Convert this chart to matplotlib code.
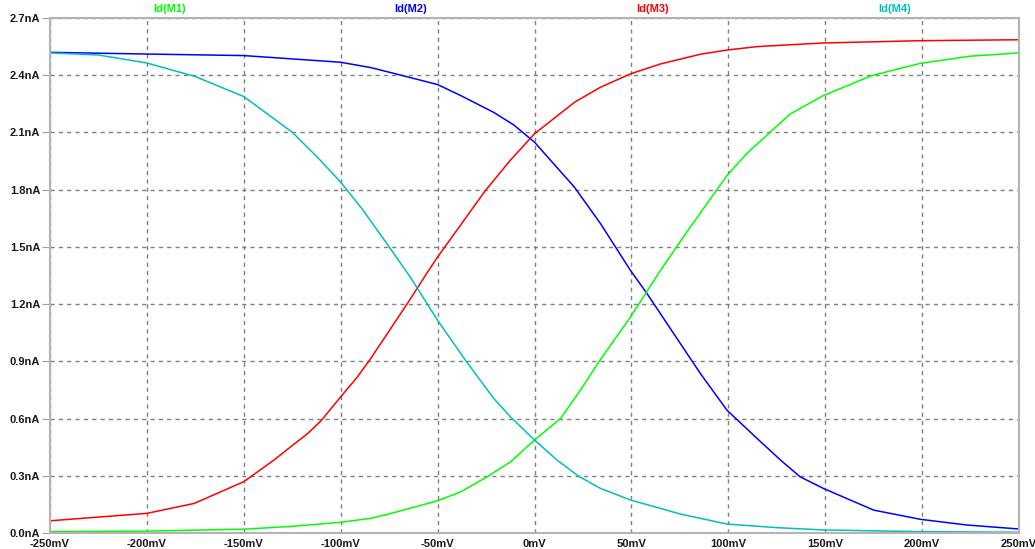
import numpy as np
import matplotlib.pyplot as plt

# readings: V in mV, Id in nA
v_m1 = [-250, -200, -150, -125, -100, -84.5, -75, -50, -38, -24.4, -12.4, 0, 13.4, 23.7, 33.2, 49.5, 65, 80.4, 99.3, 109.6, 121, 132, 149, 174, 199, 225, 250]
id_m1 = [0.007, 0.010, 0.020, 0.035, 0.056, 0.077, 0.100, 0.169, 0.216, 0.295, 0.373, 0.487, 0.600, 0.749, 0.897, 1.132, 1.377, 1.604, 1.874, 1.990, 2.096, 2.197, 2.293, 2.398, 2.462, 2.500, 2.517]

v_m2 = [-250, -200, -150, -100, -84.5, -72.7, -50, -38, -21, -10.8, 0, 20.6, 34, 49.5, 58, 80.4, 85.6, 99.3, 114.8, 127, 137, 149, 175, 199, 223, 250]
id_m2 = [2.520, 2.511, 2.503, 2.468, 2.440, 2.410, 2.351, 2.293, 2.205, 2.140, 2.049, 1.813, 1.623, 1.377, 1.256, 0.915, 0.836, 0.644, 0.496, 0.382, 0.295, 0.234, 0.120, 0.072, 0.042, 0.021]

v_m3 = [-250, -200, -175.6, -150, -134.5, -125.8, -117, -110, -100, -91.4, -84.5, -65.6, -54.6, -50, -25.3, -12.4, 0, 20.6, 34, 49.5, 65, 85.6, 99.3, 114.8, 149, 199, 250]
id_m3 = [0.064, 0.103, 0.155, 0.269, 0.382, 0.452, 0.522, 0.590, 0.714, 0.818, 0.915, 1.203, 1.377, 1.447, 1.796, 1.955, 2.093, 2.258, 2.337, 2.407, 2.459, 2.510, 2.532, 2.550, 2.569, 2.581, 2.586]

v_m4 = [-250, -225, -200, -175, -163.6, -150, -137.8, -125, -112, -100, -89, -75, -64, -50, -35, -21, -12.4, 0, 11.7, 22.7, 34, 49.5, 65, 75, 99.3, 125, 149, 200, 250]
id_m4 = [2.517, 2.506, 2.464, 2.393, 2.345, 2.288, 2.197, 2.101, 1.970, 1.839, 1.700, 1.500, 1.340, 1.115, 0.897, 0.705, 0.609, 0.487, 0.382, 0.298, 0.234, 0.173, 0.129, 0.100, 0.047, 0.028, 0.016, 0.007, 0.004]

xticks = np.arange(-250, 251, 50)
yticks = np.arange(0, 2.71, 0.3)

fig = plt.figure(figsize=(10.35, 5.49), dpi=100)
ax = fig.add_axes([50/1035, 1 - 533/549, 969/1035, 515/549])

ax.plot(v_m3, id_m3, color='#ff0000', lw=1.1)
ax.plot(v_m2, id_m2, color='#0000ff', lw=1.1)
ax.plot(v_m1, id_m1, color='#00ff00', lw=1.1)
ax.plot(v_m4, id_m4, color='#00bfbf', lw=1.1)

ax.set_xlim(-250, 250)
ax.set_ylim(0, 2.7)
ax.set_xticks(xticks)
ax.set_xticklabels([f'{int(v)}mV' for v in xticks])
ax.set_yticks(yticks)
ax.set_yticklabels([f'{v:.1f}nA' for v in yticks])
ax.grid(True, color='#808080', linestyle=(0, (3, 3)), linewidth=1)

for lab in ax.get_xticklabels() + ax.get_yticklabels():
    lab.set_fontfamily('Liberation Sans')
    lab.set_fontweight('bold')
    lab.set_fontsize(8)
    lab.set_color('#1a1a1a')
ax.tick_params(axis='x', length=0, pad=4.5)
ax.tick_params(axis='y', length=6, color='#a0a0a0', pad=1)
for sp in ax.spines.values():
    sp.set_color('#b4b4b4')
    sp.set_linewidth(1.5)

names = ['Id(M1)', 'Id(M2)', 'Id(M3)', 'Id(M4)']
colors = ['#00ff00', '#0000ff', '#ff0000', '#00bfbf']
xpos = [170, 411, 653, 895]
for n, c, xp in zip(names, colors, xpos):
    fig.text(xp/1035, 1 - 9/549, n, color=c, ha='center', va='center',
             fontsize=8, fontweight='bold', family='Liberation Sans')

plt.savefig('out.png', dpi=100)
